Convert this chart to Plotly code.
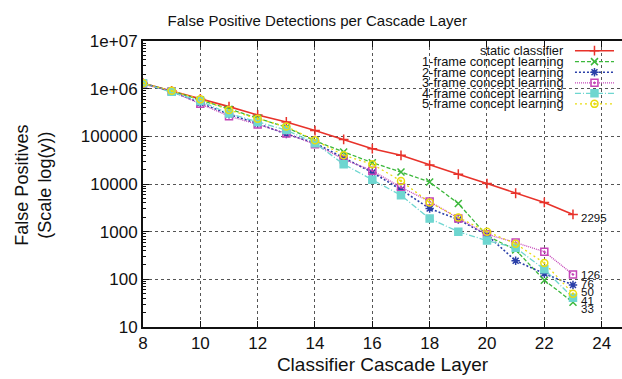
import math
import plotly.graph_objects as go

layers = list(range(8, 24))
static_classifier = [1.3e6, 9.0e5, 6.1e5, 4.2e5, 2.8e5, 2.0e5, 1.32e5, 8.6e4, 5.5e4, 4.0e4, 2.5e4, 1.6e4, 1.02e4, 6.4e3, 4.1e3, 2295]
frame1 = [1.3e6, 8.9e5, 5.8e5, 3.7e5, 2.4e5, 1.55e5, 8.0e4, 4.7e4, 2.8e4, 1.78e4, 1.1e4, 3.9e3, 820, 415, 96, 33]
frame2 = [1.3e6, 8.7e5, 5.0e5, 2.9e5, 1.85e5, 1.12e5, 7.2e4, 3.5e4, 1.75e4, 7.6e3, 3.05e3, 1.8e3, 850, 245, 132, 76]
frame3 = [1.25e6, 8.8e5, 4.8e5, 2.65e5, 1.78e5, 1.15e5, 6.8e4, 3.3e4, 1.9e4, 8.5e3, 4.3e3, 1.9e3, 880, 590, 380, 126]
frame4 = [1.3e6, 8.6e5, 5.5e5, 3.0e5, 2.0e5, 1.35e5, 7.2e4, 2.6e4, 1.23e4, 5.8e3, 1.88e3, 1.0e3, 650, 460, 162, 41]
frame5 = [1.3e6, 9.0e5, 6.0e5, 3.55e5, 2.35e5, 1.6e5, 8.3e4, 4.0e4, 2.6e4, 1.16e4, 4.1e3, 1.98e3, 1000, 560, 220, 50]

series_names = ["static classifier", "1-frame concept learning", "2-frame concept learning",
                "3-frame concept learning", "4-frame concept learning", "5-frame concept learning"]
series_values = [static_classifier, frame1, frame2, frame3, frame4, frame5]

x_ticks = [8, 10, 12, 14, 16, 18, 20, 22, 24]
y_tickvals = [10, 100, 1000, 10000, 100000, 1e6, 1e7]
y_ticktext = ["10", "100", "1000", "10000", "100000", "1e+06", "1e+07"]

colors = ["#e8322a", "#3cb83c", "#2a3fa8", "#c444b8", "#6ed6d0", "#e8dc10"]
dashes = ["solid", "4px,2px", "2px,2px", "1px,1px", "6px,2px,1px,2px", "2px,3px"]
symbols = ["cross-thin-open", "x-thin-open", "asterisk-open", "square-open-dot", "square", "circle-open-dot"]
widths = [1.6, 1.3, 1.6, 1.3, 1.3, 1.3]
# vertical nudges (px, + = up) of the end-value labels, in series order
label_yshift = [-4, -7, 1, 0, -3, 2]

FONT = "Liberation Sans, Arial, sans-serif"

fig = go.Figure()

for i, (name, vals) in enumerate(zip(series_names, series_values)):
    fig.add_trace(go.Scatter(
        x=layers, y=vals, mode="lines+markers", name=name, showlegend=False,
        line=dict(color=colors[i], width=widths[i], dash=dashes[i]),
        marker=dict(symbol=symbols[i], size=7, color=colors[i],
                    line=dict(color=colors[i], width=1.5)),
    ))

# pixel-space overlay for the custom legend (text right, sample left->right)
PX_L, PX_R, PX_T, PX_B = 143.3, 622, 41, 326.7
leg_rows = [50.7, 61.6, 72.2, 82.8, 93.3, 103.8]
for i, name in enumerate(series_names):
    fig.add_trace(go.Scatter(
        x=[575, 614], y=[leg_rows[i], leg_rows[i]], xaxis="x2", yaxis="y2",
        mode="lines", showlegend=False, hoverinfo="skip",
        line=dict(color=colors[i], width=widths[i], dash=dashes[i])))
    fig.add_trace(go.Scatter(
        x=[594.5], y=[leg_rows[i]], xaxis="x2", yaxis="y2",
        mode="markers", showlegend=False, hoverinfo="skip",
        marker=dict(symbol=symbols[i], size=7, color=colors[i],
                    line=dict(color=colors[i], width=1.5))))
    fig.add_annotation(x=566, y=leg_rows[i], xref="x2", yref="y2", text=name,
                       showarrow=False, xanchor="right", yanchor="middle",
                       font=dict(family=FONT, size=12.8, color="#111"))

# white key box hiding grid lines behind the legend (main axes coords; log y)
fig.add_shape(type="rect", xref="x", yref="y", x0=15.7, x1=24.71, y0=5.51, y1=7,
              fillcolor="white", line=dict(width=0), layer="between")

# end-value labels
for i in range(len(series_values)):
    v = series_values[i][-1]
    fig.add_annotation(x=layers[-1], y=math.log10(v), xref="x", yref="y",
                       text=str(int(v)), showarrow=False, xanchor="left", yanchor="middle",
                       xshift=6, yshift=label_yshift[i],
                       font=dict(family=FONT, size=11.5, color="#111"))

fig.add_annotation(x=-0.228, y=0.497, xref="paper", yref="paper",
                   text="False Positives<br>(Scale log(y))", textangle=-90,
                   showarrow=False, xanchor="center", yanchor="middle",
                   font=dict(family=FONT, size=18, color="#111"))

grid_color = "#555"
fig.update_layout(
    width=622, height=379,
    margin=dict(l=143, r=0, t=41, b=52),
    paper_bgcolor="white", plot_bgcolor="white",
    title=dict(text="False Positive Detections per Cascade Layer", x=0.51, xanchor="center",
               y=0.945, yanchor="middle", font=dict(family=FONT, size=15, color="#111")),
    xaxis=dict(range=[8, 24.71], tickvals=x_ticks, ticks="inside", ticklen=6, tickwidth=1,
               tickcolor="#111", showline=True, linecolor="#111", linewidth=2, mirror="ticks",
               showgrid=True, gridcolor=grid_color, griddash="dot", gridwidth=1,
               zeroline=False, tickfont=dict(family=FONT, size=17, color="#111"),
               title=dict(text="Classifier Cascade Layer", standoff=5,
                          font=dict(family=FONT, size=19, color="#111"))),
    yaxis=dict(type="log", range=[1, 7], tickvals=y_tickvals, ticktext=y_ticktext,
               ticks="inside", ticklen=6, tickwidth=1, tickcolor="#111",
               showline=True, linecolor="#111", linewidth=2, mirror=False,
               showgrid=True, gridcolor=grid_color, griddash="dot", gridwidth=1,
               zeroline=False, tickfont=dict(family=FONT, size=17, color="#111"),
               minor=dict(ticks="inside", ticklen=3, tickcolor="#111", dtick="D1", showgrid=False)),
    xaxis2=dict(overlaying="x", range=[PX_L, PX_R], visible=False, anchor="y2"),
    yaxis2=dict(overlaying="y", range=[PX_B, PX_T], visible=False, anchor="x2"),
    font=dict(family=FONT, color="#111"),
)

fig.write_html("out.html")
